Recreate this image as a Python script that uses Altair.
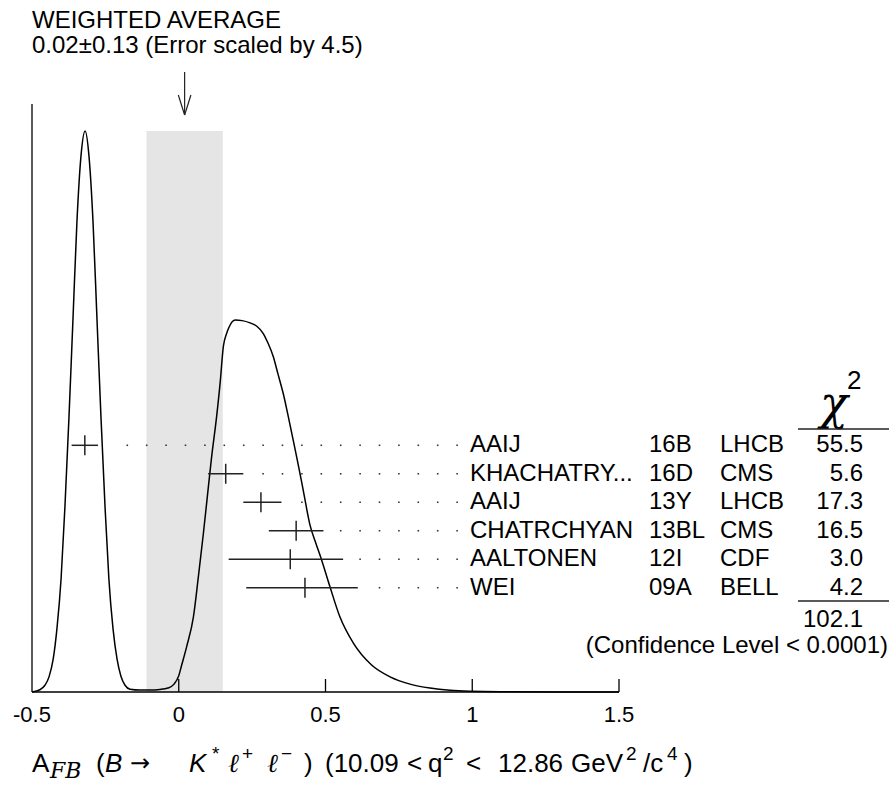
import altair as alt
import pandas as pd

# ------------------------------------------------------------------ data
AVG = 0.02
AVG_ERR = 0.13
ERR_SCALE = 4.5
CHI2_TOTAL = "102.1"
CL_TEXT = "(Confidence Level < 0.0001)"

authors = ["AAIJ", "KHACHATRY...", "AAIJ", "CHATRCHYAN", "AALTONEN", "WEI"]
years = ["16B", "16D", "13Y", "13BL", "12I", "09A"]
experiments = ["LHCB", "CMS", "LHCB", "CMS", "CDF", "BELL"]
values = [-0.32, 0.16, 0.28, 0.40, 0.38, 0.43]
err_minus = [0.045, 0.06, 0.06, 0.093, 0.21, 0.20]
err_plus = [0.045, 0.06, 0.07, 0.093, 0.18, 0.18]
chi2 = ["55.5", "5.6", "17.3", "16.5", "3.0", "4.2"]

# ideogram curve (x in A_FB units, height relative to tallest peak)
ideo_x = [-0.500, -0.473, -0.456, -0.442, -0.428, -0.415, -0.401, -0.388, -0.374, -0.360,
          -0.347, -0.333, -0.319, -0.306, -0.292, -0.279, -0.265, -0.251, -0.238, -0.224,
          -0.210, -0.197, -0.183, -0.166, -0.132, -0.098, -0.064, -0.037, -0.016, 0.000,
          0.010, 0.027, 0.050, 0.067, 0.084, 0.101, 0.112, 0.129, 0.141, 0.152,
          0.163, 0.172, 0.192, 0.216, 0.243, 0.266, 0.288, 0.304, 0.322, 0.338,
          0.356, 0.372, 0.390, 0.406, 0.424, 0.447, 0.468, 0.487, 0.515, 0.549,
          0.595, 0.657, 0.720, 0.788, 0.856, 0.924, 0.992, 1.095, 1.500]
ideo_h = [0.000, 0.004, 0.012, 0.027, 0.058, 0.113, 0.201, 0.328, 0.490, 0.670,
          0.837, 0.956, 1.000, 0.956, 0.837, 0.670, 0.490, 0.328, 0.201, 0.113,
          0.058, 0.028, 0.012, 0.005, 0.0035, 0.0035, 0.0045, 0.007, 0.014, 0.029,
          0.048, 0.081, 0.134, 0.206, 0.283, 0.366, 0.419, 0.491, 0.551, 0.616,
          0.639, 0.651, 0.663, 0.662, 0.658, 0.652, 0.639, 0.622, 0.598, 0.567,
          0.532, 0.494, 0.449, 0.408, 0.360, 0.298, 0.264, 0.235, 0.188, 0.134,
          0.087, 0.048, 0.027, 0.014, 0.007, 0.003, 0.0012, 0.0003, 0.000]

tick_values = [-0.5, 0, 0.5, 1, 1.5]
tick_labels = ["-0.5", "0", "0.5", "1", "1.5"]

# ------------------------------------------------------------------ layout
W, H = 587, 692                 # plot area; ideogram baseline is its bottom edge
PAD = {"left": 32, "top": 0, "right": 271, "bottom": 101}
LEFT = PAD["left"]
PEAK_TOP = 131                  # pixel row of the tallest ideogram peak
PEAK_PX = H - PEAK_TOP
Y_MAX = H / PEAK_PX
AXIS_TOP = 104
ROW0, ROW_STEP = 445.3, 28.48   # pixel rows of the measurement list
CROSS_HALF = 10
TICK_LEN = 13
DOT_X0, DOT_STEP, N_DOTS, DOT_GAP = -0.1753, 0.0661, 18, 0.03
ARROW_HALF = 0.0215
FONT = "Liberation Sans, Arial, Helvetica, sans-serif"
FS = 24
INK = "#222222"

xs = alt.Scale(domain=[-0.5, 1.5], nice=False, zero=False)
ys = alt.Scale(domain=[0, Y_MAX], nice=False, zero=False)


def X(f):
    return alt.X(f, type="quantitative", scale=xs, axis=None)


def Y(f):
    return alt.Y(f, type="quantitative", scale=ys, axis=None)


one = pd.DataFrame({"a": [0]})


def txt(text, x, y, **props):
    p = dict(align="left", baseline="alphabetic", fontSize=FS, font=FONT, color="black")
    p.update(props)
    return alt.Chart(one).mark_text(**p).encode(
        x=alt.value(x), y=alt.value(y), text=alt.value(text))


def rule(x, y, x2=None, y2=None, **props):
    p = dict(color=INK, strokeWidth=1.3)
    p.update(props)
    enc = dict(x=alt.value(x), y=alt.value(y))
    if x2 is not None:
        enc["x2"] = alt.value(x2)
    if y2 is not None:
        enc["y2"] = alt.value(y2)
    return alt.Chart(one).mark_rule(**p).encode(**enc)


# ------------------------------------------------------------------ frames
n = len(authors)
rows = pd.DataFrame({
    "author": authors, "year": years, "exp": experiments, "chi2": chi2,
    "v": values,
    "lo": [v - e for v, e in zip(values, err_minus)],
    "hi": [v + e for v, e in zip(values, err_plus)],
})
rows["y"] = [(H - ROW0 - i * ROW_STEP) / PEAK_PX for i in range(n)]
rows["ya"] = rows["y"] - CROSS_HALF / PEAK_PX
rows["yb"] = rows["y"] + CROSS_HALF / PEAK_PX

dots = []
for _, r in rows.iterrows():
    for k in range(N_DOTS):
        xk = DOT_X0 + k * DOT_STEP
        if xk >= r["hi"] + DOT_GAP:
            dots.append({"x": xk, "y": r["y"]})
dots = pd.DataFrame(dots)

ideo = pd.DataFrame({"x": ideo_x, "h": ideo_h, "i": range(len(ideo_x))})
band = pd.DataFrame({"x": [AVG - AVG_ERR], "x2": [AVG + AVG_ERR], "y": [0.0], "y2": [max(ideo_h)]})
ticks = pd.DataFrame({"v": tick_values, "label": tick_labels})
arrow = pd.DataFrame({"x": [AVG], "xl": [AVG - ARROW_HALF], "xr": [AVG + ARROW_HALF]})

layers = []

# weighted-average band
layers.append(alt.Chart(band).mark_rect(color="#e5e5e5").encode(
    x=X("x"), x2=alt.X2("x2"), y=Y("y"), y2=alt.Y2("y2")))

# axes
layers.append(rule(0, AXIS_TOP, y2=H, color="black"))
layers.append(rule(0, H, x2=W, color="black"))
layers.append(alt.Chart(ticks[ticks.v > -0.5]).mark_rule(color="black", strokeWidth=1.3).encode(
    x=X("v"), y=alt.value(H), y2=alt.value(H - TICK_LEN)))
layers.append(alt.Chart(ticks).mark_text(fontSize=22, font=FONT, baseline="middle", color="black").encode(
    x=X("v"), y=alt.value(H + 23), text="label:N"))

# ideogram
layers.append(alt.Chart(ideo).mark_line(color="black", strokeWidth=1.5, interpolate="monotone").encode(
    x=X("x"), y=Y("h"), order="i:Q"))

# dotted leaders
layers.append(alt.Chart(dots).mark_square(size=2.5, color="#333333", opacity=1).encode(
    x=X("x"), y=Y("y")))

# error bars and central values
layers.append(alt.Chart(rows).mark_rule(color=INK, strokeWidth=1.5).encode(
    x=X("lo"), x2=alt.X2("hi"), y=Y("y")))
layers.append(alt.Chart(rows).mark_rule(color=INK, strokeWidth=1.5).encode(
    x=X("v"), y=Y("ya"), y2=alt.Y2("yb")))

# measurement table
for field, px, align in [("author", 470, "left"), ("year", 649, "left"),
                         ("exp", 720, "left"), ("chi2", 863, "right")]:
    layers.append(alt.Chart(rows).mark_text(align=align, baseline="middle", fontSize=FS,
                                            font=FONT, color="black").encode(
        x=alt.value(px - LEFT), y=Y("y"), text=f"{field}:N"))

# chi^2 header / total
layers.append(txt("\u03c7", 834 - LEFT, 419, align="center", fontSize=46,
                  font="DejaVu Serif", fontStyle="italic"))
layers.append(txt("2", 847 - LEFT, 389, fontSize=26))
layers.append(rule(798 - LEFT, 429, x2=889 - LEFT))
layers.append(rule(798 - LEFT, 601, x2=889 - LEFT))
layers.append(txt(CHI2_TOTAL, 863 - LEFT, 620, align="right", baseline="middle"))
layers.append(txt(CL_TEXT, 888 - LEFT, 646, align="right", baseline="middle"))

# weighted average heading and arrow
layers.append(txt("WEIGHTED AVERAGE", 0, 28))
layers.append(txt(f"{AVG:.2f}\u00b1{AVG_ERR:.2f} (Error scaled by {ERR_SCALE})", 0, 53))
layers.append(alt.Chart(arrow).mark_rule(color=INK, strokeWidth=1.2).encode(
    x=X("x"), y=alt.value(72), y2=alt.value(115)))
layers.append(alt.Chart(arrow).mark_rule(color=INK, strokeWidth=1.2).encode(
    x=X("xl"), x2=alt.X2("x"), y=alt.value(95), y2=alt.value(115)))
layers.append(alt.Chart(arrow).mark_rule(color=INK, strokeWidth=1.2).encode(
    x=X("xr"), x2=alt.X2("x"), y=alt.value(95), y2=alt.value(115)))

# x-axis title, built from pieces
XL_BASE = 772
STYLES = {
    "rm": dict(fontSize=26),
    "ar": dict(fontSize=24, font="DejaVu Sans"),
    "it": dict(fontSize=26, fontStyle="italic"),
    "mi": dict(fontSize=26, fontStyle="italic", font="DejaVu Serif"),
    "sub": dict(fontSize=22, fontStyle="italic", font="DejaVu Serif"),
    "sup": dict(fontSize=19),
}
SHIFT = {"rm": 0, "ar": -1, "it": 0, "mi": 0, "sub": 6, "sup": -12}
XLABEL = [("A", 32, "rm"), ("FB", 50, "sub"), ("(", 96, "rm"), ("B", 105, "it"),
          ("\u2192", 130, "ar"), ("K", 189, "it"), ("*", 212, "sup"), ("\u2113", 228, "mi"),
          ("+", 242, "sup"), ("\u2113", 267, "mi"), ("\u2212", 281, "sup"), (")", 304, "rm"),
          ("(10.09", 325, "rm"), ("<", 407, "rm"), ("q", 428, "rm"), ("2", 443, "sup"),
          ("<", 466, "rm"), ("12.86", 498, "rm"), ("GeV", 571, "rm"), ("2", 626, "sup"),
          ("/c", 643, "rm"), ("4", 667, "sup"), (")", 684, "rm")]
for t, px, kind in XLABEL:
    layers.append(txt(t, px - LEFT, XL_BASE + SHIFT[kind], **STYLES[kind]))

chart = alt.layer(*layers).properties(
    width=W, height=H, padding=PAD,
    autosize=alt.AutoSizeParams(type="none"),
).configure_view(stroke=None)

chart.save("out.html", embed_options={"renderer": "svg", "actions": False})
